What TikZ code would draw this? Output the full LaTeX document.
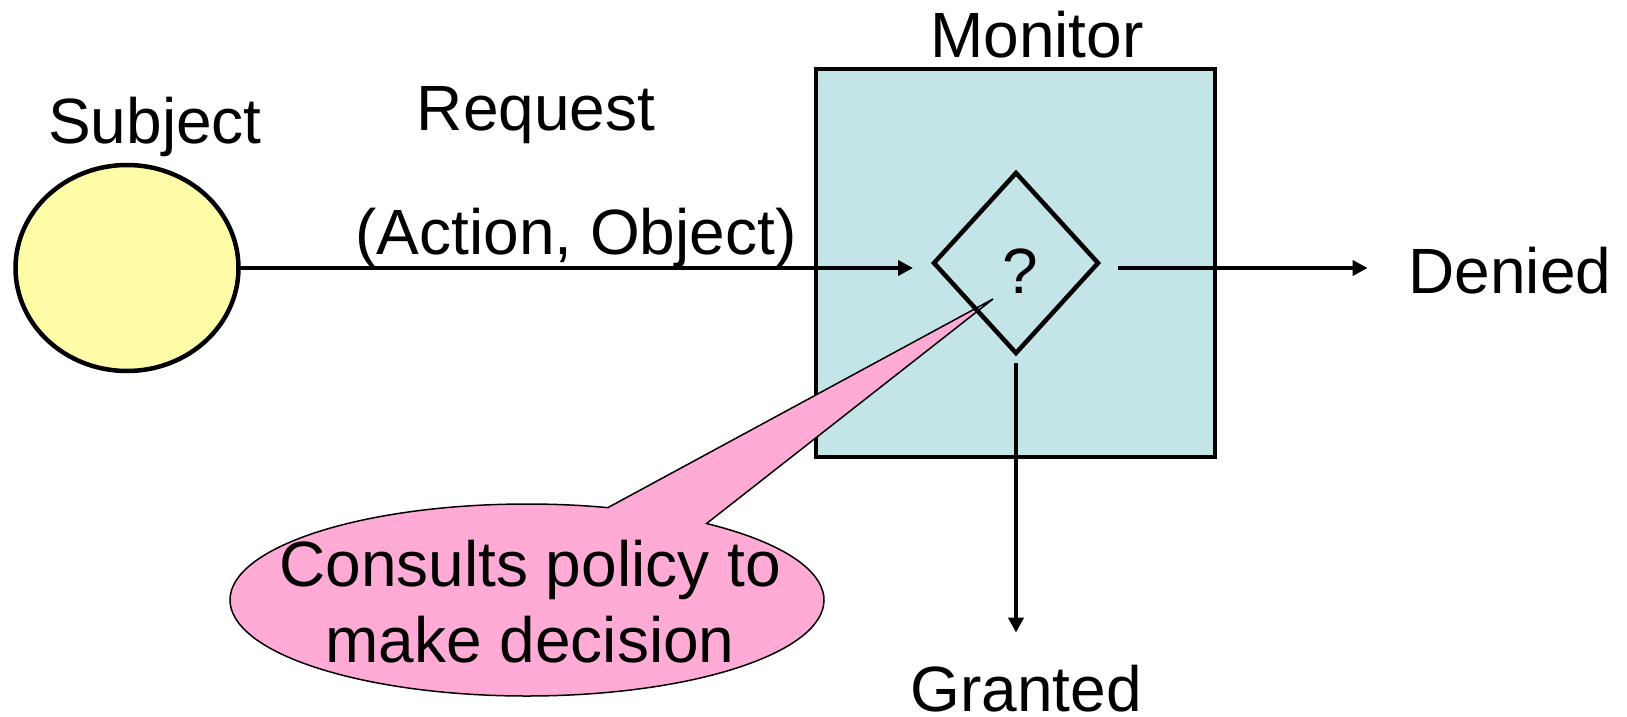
\documentclass[tikz,border=0pt]{standalone}
\usepackage{fontspec}
\setmainfont{Liberation Sans}
\usetikzlibrary{shapes.geometric,arrows.meta}
\definecolor{subjfill}{HTML}{FFFCA8}
\definecolor{monfill}{HTML}{C4E5E8}
\definecolor{notefill}{HTML}{FFABD5}
\begin{document}
\begin{tikzpicture}[x=1pt,y=-1pt,
  every node/.style={inner sep=0pt, outer sep=0pt, font=\fontsize{64}{76}\selectfont},
  lbl/.style={anchor=base},
  shapeline/.style={draw, line width=4.5pt},
  arr/.style={line width=4pt, -{Triangle[length=15pt,width=15pt]}},
  callout/.style={draw, fill=notefill, line width=1.5pt}]
\useasboundingbox (0,0) rectangle (1627,717);

% subject and monitor
\node[shapeline, ellipse, fill=subjfill, minimum width=223pt, minimum height=206pt] (subj) at (127,268) {};
\node[shapeline, rectangle, fill=monfill, minimum width=399pt, minimum height=388pt] (mon) at (1015.5,263) {};

% speech bubble pointing at the decision
\coordinate (nc) at (527,600);
\coordinate (tip) at (993,299);
\path[callout] (nc) ++(-52.8:297 and 96)
  arc[start angle=-52.8, end angle=285.8, x radius=297, y radius=96]
  -- (tip) -- cycle;
\node[align=center] (note) at (530,602) {Consults policy to\\make decision};

% decision diamond
\node[shapeline, diamond, minimum width=164pt, minimum height=180pt] (dia) at (1016,263) {};
\node[lbl] (q) at (1020,293) {?};

% labels
\node[lbl] (subjl) at (155,143) {Subject};
\node[lbl] (req) at (536,130) {Request};
\node[lbl] (ao) at (576,254) {(Action, Object)};
\node[lbl] (monl) at (1037,58) {Monitor};
\node[lbl] (denied) at (1510,293) {Denied};
\node[lbl] (granted) at (1026,711) {Granted};

% connectors
\draw[arr, shorten >=21pt] (subj.east) -- (subj.east -| dia.west);
\draw[arr, shorten <=20pt, shorten >=41pt] (subj.east -| dia.east) -- (subj.east -| denied.west);
\draw[arr, shorten <=10pt, shorten >=32pt] (dia.south) -- (dia.south |- granted.north);
\end{tikzpicture}
\end{document}
